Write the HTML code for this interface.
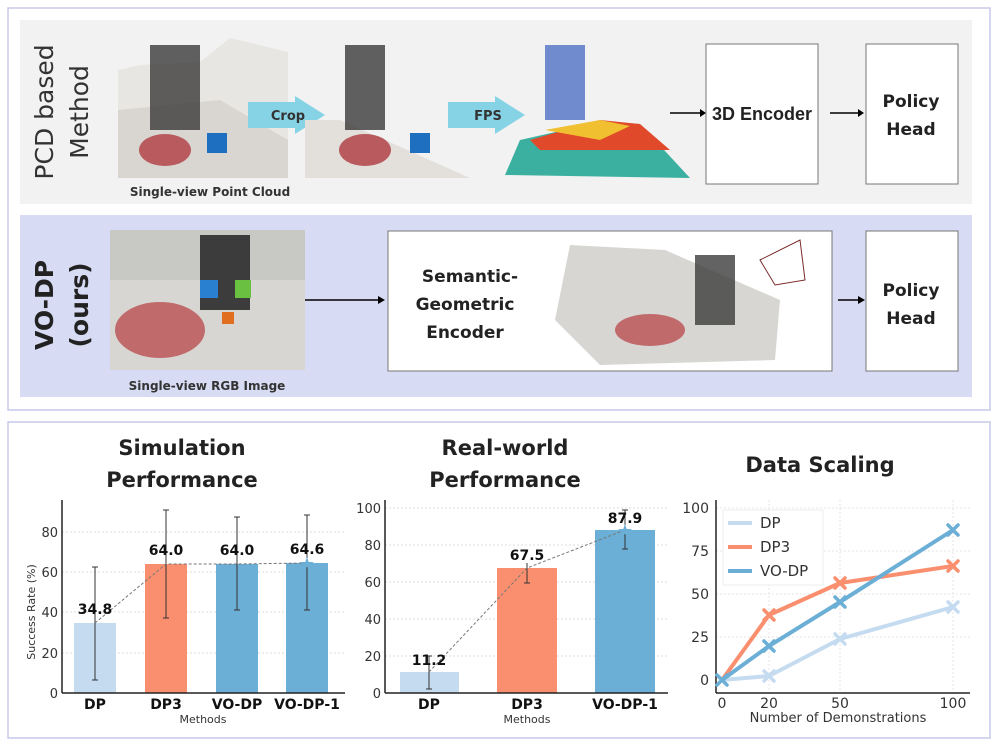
<!DOCTYPE html>
<html><head><meta charset="utf-8"><style>
body{margin:0;background:#fff;width:997px;height:745px;overflow:hidden}
svg{display:block;font-family:"DejaVu Sans","Liberation Sans",sans-serif}
</style></head><body>
<svg width="997" height="745" viewBox="0 0 997 745">
<rect x="8" y="8" width="982" height="402" fill="#fff" stroke="#c8c8ea" stroke-width="1.5"/>
<rect x="20" y="20" width="952" height="184" fill="#f2f2f2"/>
<rect x="20" y="215" width="952" height="182" fill="#d7dbf3"/>
<text transform="translate(53,112) rotate(-90)" text-anchor="middle" font-size="25" fill="#333">PCD based</text>
<text transform="translate(88,112) rotate(-90)" text-anchor="middle" font-size="25" fill="#333">Method</text>
<text transform="translate(53,305) rotate(-90)" text-anchor="middle" font-size="25" font-weight="bold" fill="#222">VO-DP</text>
<text transform="translate(88,305) rotate(-90)" text-anchor="middle" font-size="25" font-weight="bold" fill="#222">(ours)</text>
<polygon points="118,70 140,65 200,62 230,38 288,52 288,178 118,178" fill="#e8e6e2"/>
<polygon points="118,110 220,100 288,140 288,178 118,178" fill="#d9d6d2"/>
<rect x="150" y="45" width="50" height="85" fill="#3a3a3a" opacity="0.8"/>
<ellipse cx="165" cy="150" rx="26" ry="16" fill="#b85a5e"/>
<rect x="207" y="133" width="20" height="20" fill="#1f6fc0"/>
<text x="210" y="196" text-anchor="middle" font-size="12" font-weight="bold" fill="#333">Single-view Point Cloud</text>
<polygon points="248,102 295,102 295,96 325,115 295,134 295,128 248,128" fill="#86d3e6"/>
<text x="288" y="120" text-anchor="middle" font-size="13" font-weight="bold" fill="#333">Crop</text>
<polygon points="305,120 340,120 470,178 305,178" fill="#e3e0dc"/>
<rect x="345" y="45" width="40" height="85" fill="#3a3a3a" opacity="0.8"/>
<ellipse cx="365" cy="150" rx="26" ry="16" fill="#b85a5e"/>
<rect x="410" y="133" width="20" height="20" fill="#1f6fc0"/>
<polygon points="448,102 495,102 495,96 525,115 495,134 495,128 448,128" fill="#86d3e6"/>
<text x="488" y="120" text-anchor="middle" font-size="13" font-weight="bold" fill="#333">FPS</text>
<polygon points="505,175 520,140 600,122 640,124 690,178" fill="#3bb0a0"/>
<polygon points="530,140 600,120 640,124 670,150 540,150" fill="#e04a2a"/>
<polygon points="545,130 600,120 630,126 600,140" fill="#f0c030"/>
<rect x="545" y="45" width="40" height="75" fill="#3a60c0" opacity="0.7"/>
<line x1="670" y1="113" x2="700" y2="113" stroke="#000" stroke-width="1.5"/><polygon points="700,109 706,113 700,117"/>
<rect x="706" y="44" width="112" height="140" fill="#fff" stroke="#777"/>
<text x="762" y="120" text-anchor="middle" font-size="18" font-weight="bold" fill="#222" font-family="Liberation Sans">3D Encoder</text>
<line x1="830" y1="113" x2="860" y2="113" stroke="#000" stroke-width="1.5"/><polygon points="858,109 864,113 858,117"/>
<rect x="866" y="44" width="92" height="140" fill="#fff" stroke="#777"/>
<text x="911" y="107" text-anchor="middle" font-size="17" font-weight="bold" fill="#222">Policy</text>
<text x="911" y="135" text-anchor="middle" font-size="17" font-weight="bold" fill="#222">Head</text>
<rect x="110" y="230" width="195" height="140" fill="#d8d6d2"/>
<rect x="110" y="230" width="195" height="50" fill="#c8c8c4"/>
<rect x="200" y="235" width="50" height="75" fill="#3c3c3c"/>
<ellipse cx="160" cy="330" rx="45" ry="28" fill="#c06a6c"/>
<rect x="200" y="280" width="18" height="18" fill="#2a80d0"/><rect x="235" y="280" width="16" height="18" fill="#6ac040"/><rect x="222" y="312" width="12" height="12" fill="#e07020"/>
<text x="207" y="390" text-anchor="middle" font-size="12" font-weight="bold" fill="#333">Single-view RGB Image</text>
<line x1="305" y1="300" x2="378" y2="300" stroke="#000" stroke-width="1.5"/><polygon points="378,296 385,300 378,304"/>
<rect x="388" y="231" width="444" height="140" fill="#fff" stroke="#777"/>
<text x="470" y="282" text-anchor="middle" font-size="17" font-weight="bold" fill="#222">Semantic-</text>
<text x="465" y="310" text-anchor="middle" font-size="17" font-weight="bold" fill="#222">Geometric</text>
<text x="465" y="338" text-anchor="middle" font-size="17" font-weight="bold" fill="#222">Encoder</text>
<polygon points="555,320 570,245 665,250 780,300 775,360 600,365" fill="#d8d6d2"/>
<rect x="695" y="255" width="40" height="70" fill="#3c3c3c" opacity="0.8"/>
<ellipse cx="650" cy="330" rx="35" ry="16" fill="#c06a6c"/>
<polygon points="760,260 800,240 805,280 775,285" fill="none" stroke="#7a2a2a"/>
<line x1="838" y1="300" x2="858" y2="300" stroke="#000" stroke-width="1.5"/><polygon points="858,296 865,300 858,304"/>
<rect x="866" y="231" width="92" height="140" fill="#fff" stroke="#777"/>
<text x="911" y="296" text-anchor="middle" font-size="17" font-weight="bold" fill="#222">Policy</text>
<text x="911" y="324" text-anchor="middle" font-size="17" font-weight="bold" fill="#222">Head</text>

<rect x="8" y="422" width="982" height="316" fill="#fff" stroke="#c8c8ea" stroke-width="1.5"/>
<g font-weight="bold" font-size="21" text-anchor="middle" fill="#222">
<text x="182" y="455">Simulation</text><text x="182" y="487">Performance</text>
<text x="505" y="455">Real-world</text><text x="505" y="487">Performance</text>
<text x="820" y="472">Data Scaling</text></g>
<g stroke="#ddd" stroke-dasharray="2,2"><line x1="62" y1="653" x2="345" y2="653"/><line x1="62" y1="612" x2="345" y2="612"/><line x1="62" y1="572" x2="345" y2="572"/><line x1="62" y1="532" x2="345" y2="532"/></g>
<rect x="74" y="623" width="42" height="70" fill="#c5dbf0"/>
<rect x="145" y="564" width="42" height="129" fill="#fa8f6f"/>
<rect x="216" y="564" width="42" height="129" fill="#6baed6"/>
<rect x="286" y="563" width="42" height="130" fill="#6baed6"/>
<g stroke="#333" stroke-width="1"><line x1="95" y1="567" x2="95" y2="680"/><line x1="92" y1="567" x2="98" y2="567"/><line x1="92" y1="680" x2="98" y2="680"/>
<line x1="166" y1="510" x2="166" y2="618"/><line x1="163" y1="510" x2="169" y2="510"/><line x1="163" y1="618" x2="169" y2="618"/>
<line x1="237" y1="517" x2="237" y2="610"/><line x1="234" y1="517" x2="240" y2="517"/><line x1="234" y1="610" x2="240" y2="610"/>
<line x1="307" y1="515" x2="307" y2="610"/><line x1="304" y1="515" x2="310" y2="515"/><line x1="304" y1="610" x2="310" y2="610"/></g>
<polyline points="95,623 166,564 237,564 307,563" fill="none" stroke="#777" stroke-dasharray="3,2"/>
<text x="307" y="570" font-size="18" fill="#6baed6" text-anchor="middle">★</text>
<line x1="62" y1="500" x2="62" y2="693" stroke="#222" stroke-width="1.5"/><line x1="62" y1="693" x2="345" y2="693" stroke="#222" stroke-width="1.5"/>
<g font-size="13" fill="#333" text-anchor="end"><text x="58" y="698">0</text><text x="58" y="658">20</text><text x="58" y="617">40</text><text x="58" y="577">60</text><text x="58" y="537">80</text></g>
<text transform="translate(35,612) rotate(-90)" text-anchor="middle" font-size="11" fill="#333">Success Rate (%)</text>
<g font-size="14" font-weight="bold" text-anchor="middle" fill="#111"><text x="95" y="614">34.8</text><text x="166" y="555">64.0</text><text x="237" y="555">64.0</text><text x="307" y="554">64.6</text>
<text x="95" y="709">DP</text><text x="166" y="709">DP3</text><text x="237" y="709">VO-DP</text><text x="307" y="709">VO-DP-1</text></g>
<text x="203" y="723" text-anchor="middle" font-size="11" fill="#333">Methods</text>
<g stroke="#ddd" stroke-dasharray="2,2"><line x1="385" y1="656" x2="668" y2="656"/><line x1="385" y1="619" x2="668" y2="619"/><line x1="385" y1="582" x2="668" y2="582"/><line x1="385" y1="545" x2="668" y2="545"/><line x1="385" y1="508" x2="668" y2="508"/></g>
<rect x="400" y="672" width="59" height="21" fill="#c5dbf0"/>
<rect x="497" y="568" width="60" height="125" fill="#fa8f6f"/>
<rect x="595" y="530" width="60" height="163" fill="#6baed6"/>
<g stroke="#333"><line x1="429" y1="656" x2="429" y2="689"/><line x1="426" y1="656" x2="432" y2="656"/><line x1="426" y1="689" x2="432" y2="689"/>
<line x1="527" y1="563" x2="527" y2="583"/><line x1="524" y1="583" x2="530" y2="583"/>
<line x1="625" y1="510" x2="625" y2="549"/><line x1="622" y1="510" x2="628" y2="510"/><line x1="622" y1="549" x2="628" y2="549"/></g>
<polyline points="429,672 527,568 625,530" fill="none" stroke="#777" stroke-dasharray="3,2"/>
<text x="625" y="537" font-size="18" fill="#6baed6" text-anchor="middle">★</text>
<line x1="385" y1="500" x2="385" y2="693" stroke="#222" stroke-width="1.5"/><line x1="385" y1="693" x2="668" y2="693" stroke="#222" stroke-width="1.5"/>
<g font-size="13" fill="#333" text-anchor="end"><text x="381" y="698">0</text><text x="381" y="661">20</text><text x="381" y="624">40</text><text x="381" y="587">60</text><text x="381" y="550">80</text><text x="381" y="513">100</text></g>
<g font-size="14" font-weight="bold" text-anchor="middle" fill="#111"><text x="429" y="665">11.2</text><text x="527" y="560">67.5</text><text x="625" y="523">87.9</text>
<text x="429" y="709">DP</text><text x="527" y="709">DP3</text><text x="625" y="709">VO-DP-1</text></g>
<text x="527" y="723" text-anchor="middle" font-size="11" fill="#333">Methods</text>
<g stroke="#e4e4e4" stroke-dasharray="2,2"><line x1="716" y1="637" x2="970" y2="637"/><line x1="716" y1="594" x2="970" y2="594"/><line x1="716" y1="551" x2="970" y2="551"/><line x1="716" y1="508" x2="970" y2="508"/><line x1="769" y1="500" x2="769" y2="692"/><line x1="840" y1="500" x2="840" y2="692"/><line x1="953" y1="500" x2="953" y2="692"/></g>
<line x1="716" y1="500" x2="716" y2="693" stroke="#222" stroke-width="1.5"/><line x1="716" y1="693" x2="970" y2="693" stroke="#222" stroke-width="1.5"/>
<g fill="none" stroke-width="4" stroke-linejoin="round">
<polyline points="722,680 769,676 840,639 953,607" stroke="#c5dbf0"/>
<polyline points="722,680 769,615 840,583 953,566" stroke="#fa8f6f"/>
<polyline points="722,680 769,646 840,602 953,530" stroke="#6baed6"/></g>
<g stroke-width="3.5" stroke-linecap="round">
<g stroke="#c5dbf0"><path d="M764,671l10,10M774,671l-10,10M835,634l10,10M845,634l-10,10M948,602l10,10M958,602l-10,10"/></g>
<g stroke="#fa8f6f"><path d="M764,610l10,10M774,610l-10,10M835,578l10,10M845,578l-10,10M948,561l10,10M958,561l-10,10"/></g>
<g stroke="#6baed6"><path d="M717,675l10,10M727,675l-10,10M764,641l10,10M774,641l-10,10M835,597l10,10M845,597l-10,10M948,525l10,10M958,525l-10,10"/></g></g>
<rect x="723" y="510" width="100" height="75" fill="#fff" stroke="#eee"/>
<g stroke-width="4"><line x1="728" y1="523" x2="752" y2="523" stroke="#c5dbf0"/><line x1="728" y1="547" x2="752" y2="547" stroke="#fa8f6f"/><line x1="728" y1="571" x2="752" y2="571" stroke="#6baed6"/></g>
<g font-size="15" fill="#333"><text x="760" y="528">DP</text><text x="760" y="552">DP3</text><text x="760" y="576">VO-DP</text></g>
<g font-size="14" fill="#333" text-anchor="end"><text x="709" y="685">0</text><text x="709" y="642">25</text><text x="709" y="599">50</text><text x="709" y="556">75</text><text x="709" y="513">100</text></g>
<g font-size="14" fill="#333" text-anchor="middle"><text x="722" y="708">0</text><text x="769" y="708">20</text><text x="840" y="708">50</text><text x="953" y="708">100</text></g>
<text x="838" y="722" text-anchor="middle" font-size="13" fill="#333">Number of Demonstrations</text>
</svg>
</body></html>
